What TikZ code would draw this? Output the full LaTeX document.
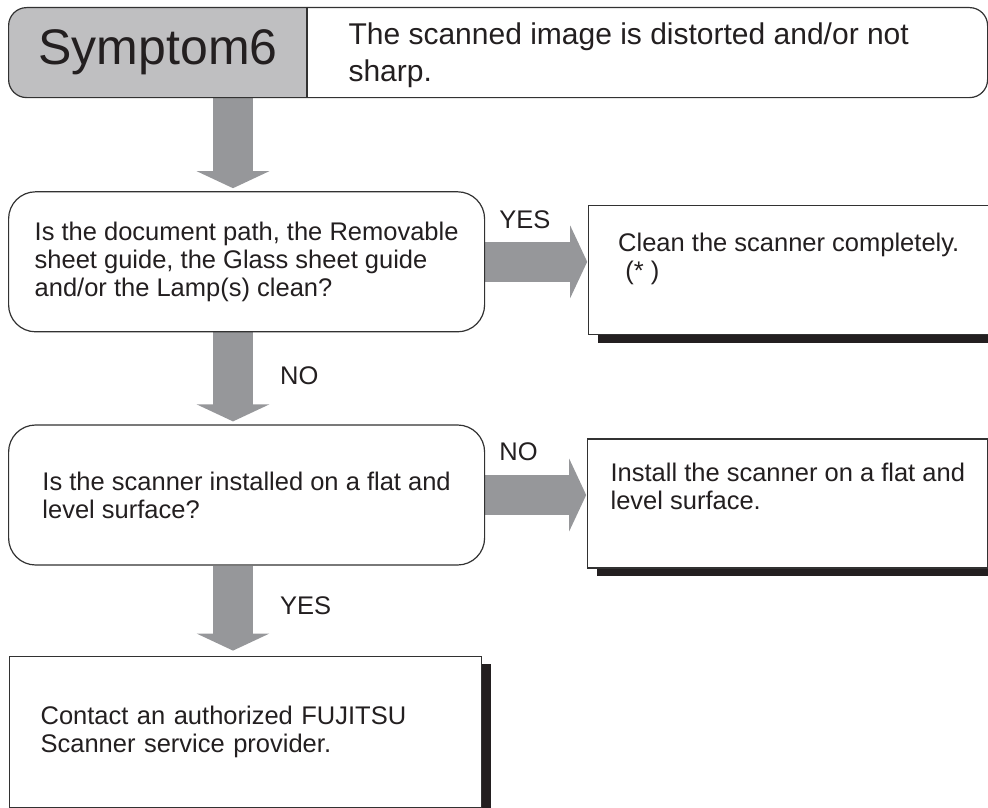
\documentclass[tikz,border=0pt]{standalone}
\usepackage{fontspec}
\setmainfont{Liberation Sans}
\usepackage{xcolor}
\usepackage{tikz}
\usetikzlibrary{arrows.meta,positioning,calc,shadows,backgrounds}
\definecolor{symgray}{RGB}{191,191,193}
\definecolor{arrowgray}{RGB}{150,151,154}
\definecolor{edgegray}{RGB}{50,50,50}
\definecolor{inkblack}{RGB}{35,31,32}
\newcommand{\bodyfont}{\fontsize{25.5}{28}\selectfont}
\newcommand{\titlefont}{\fontsize{30}{37}\selectfont}
\newcommand{\sympfont}{\fontsize{50}{56}\selectfont}

\begin{document}
\begin{tikzpicture}[
    x=1pt, y=-1pt,
    text=inkblack,
    header/.style={draw=edgegray, line width=1.2pt, rounded corners=18pt, fill=white, minimum width=979pt, minimum height=90pt, anchor=north west, path picture={\fill[symgray, sharp corners] (path picture bounding box.north west) rectangle ([xshift=299pt]path picture bounding box.south west);}},
    question/.style={draw=edgegray, line width=1.2pt, rounded corners=27pt, fill=white, minimum width=476pt, minimum height=140pt, align=left, font=\bodyfont},
    answer/.style={draw=edgegray, line width=1.2pt, fill=white, drop shadow={shadow xshift=9pt, shadow yshift=-8pt, fill=inkblack, opacity=1}, minimum width=400pt, minimum height=129pt, align=left, font=\bodyfont},
    bigarrow/.style={draw=arrowgray, line width=40pt, -{Triangle[width=72pt,length=17pt]}},
    tag/.style={font=\bodyfont, anchor=base west, inner sep=0pt}
]
\useasboundingbox (0,0) rectangle (988,808);
\clip (0,0) rectangle (988,808);
\node[header] (hdr) at (8,7) {};
\draw[edgegray, line width=1.2pt] ([xshift=299pt]hdr.north west) -- ([xshift=299pt]hdr.south west);
\node[font=\sympfont] (symp) at ([xshift=150pt]hdr.west) {Symptom6};
\node[font=\titlefont, align=left, anchor=west] (title) at ([xshift=337pt,yshift=-3pt]hdr.west) {The scanned image is distorted and/or not\\sharp.};
\node[question, below right=93pt and 0pt of hdr.south west] (pathq) {Is the document path, the Removable\\sheet guide, the Glass sheet guide\\and/or the Lamp(s) clean?};
\node[answer, below right=14pt and 103pt of pathq.north east] (cleanup) {Clean the scanner completely.\\~(* )\\\mbox{}};
\node[question, below=92pt of pathq] (levelq) {Is the scanner installed on a flat and\\level surface?};
\node[answer, below right=14pt and 102pt of levelq.north east] (install) {Install the scanner on a flat and\\level surface.\\[6pt]\mbox{}};
\node[answer, minimum width=472pt, minimum height=151pt, inner xsep=31pt, text width=410pt, below right=90pt and 1pt of levelq.south west] (contact) {Contact an authorized FUJITSU\\Scanner service provider.};
\begin{scope}[on background layer]
\draw[bigarrow, shorten >=3pt] ([xshift=225pt]hdr.south west) -- ([xshift=225pt]pathq.north west);
\draw[bigarrow, shorten >=3pt] ([xshift=225pt]pathq.south west) -- ([xshift=225pt]levelq.north west);
\draw[bigarrow, shorten >=5pt] ([xshift=225pt]levelq.south west) -- ([xshift=224pt]contact.north west);
\draw[bigarrow, shorten >=1pt] (pathq.east) -- (pathq.east -| cleanup.west);
\draw[bigarrow, shorten >=1pt] (levelq.east) -- (levelq.east -| install.west);
\end{scope}
\node[tag] (yesone) at ([xshift=14pt,yshift=33pt]pathq.east) {YES};
\node[tag] (noone) at ([xshift=272pt,yshift=-52pt]pathq.south west) {NO};
\node[tag] (notwo) at ([xshift=14pt,yshift=35pt]levelq.east) {NO};
\node[tag] (yestwo) at ([xshift=272pt,yshift=-49pt]levelq.south west) {YES};
\end{tikzpicture}
\end{document}
